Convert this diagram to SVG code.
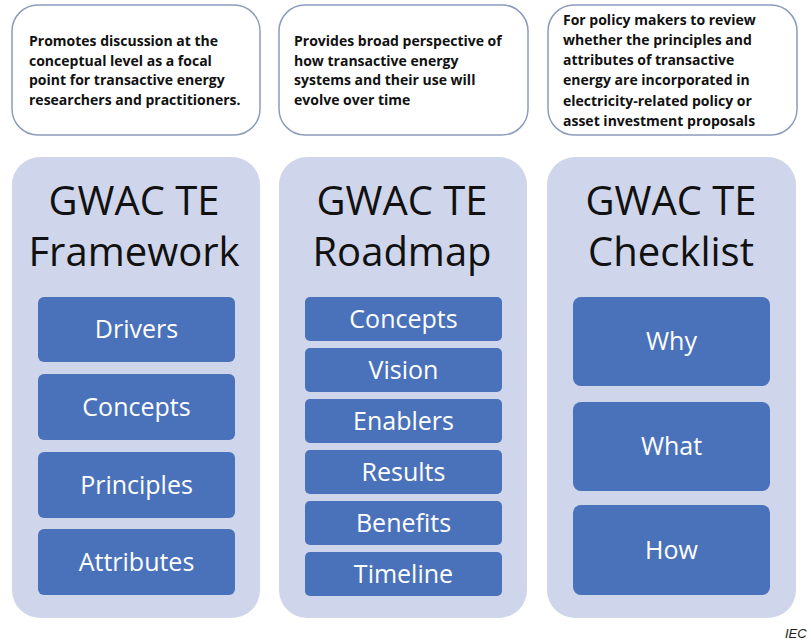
<svg xmlns="http://www.w3.org/2000/svg" width="811" height="641" viewBox="0 0 811 641">
<style>
.note{fill:#ffffff;stroke:#8c9cbb;stroke-width:1.5}
.ntxt{font-family:"Open Sans","Liberation Sans",sans-serif;font-weight:bold;font-size:14px;fill:#111111}
.panel{fill:#cfd5ea}
.title{font-family:"Open Sans","Liberation Sans",sans-serif;font-size:40px;fill:#111111;text-anchor:middle}
.item{fill:#4a72bb}
.itxt{font-family:"Open Sans","Liberation Sans",sans-serif;font-size:25px;fill:#ffffff;text-anchor:middle}
.src{font-family:"Liberation Sans",Arial,sans-serif;font-style:italic;font-size:13px;fill:#222222}
</style>
<rect width="811" height="641" fill="#ffffff"/>
<g id="note-framework">
<rect class="note" x="12" y="5" width="248" height="130" rx="26"/>
<text class="ntxt" x="29" y="46">Promotes discussion at the</text>
<text class="ntxt" x="29" y="65.5">conceptual level as a focal</text>
<text class="ntxt" x="29" y="85">point for transactive energy</text>
<text class="ntxt" x="29" y="104.5">researchers and practitioners.</text>
</g>
<g id="note-roadmap">
<rect class="note" x="279" y="5" width="249" height="130" rx="26"/>
<text class="ntxt" x="294" y="46">Provides broad perspective of</text>
<text class="ntxt" x="294" y="65.5">how transactive energy</text>
<text class="ntxt" x="294" y="85">systems and their use will</text>
<text class="ntxt" x="294" y="104.5">evolve over time</text>
</g>
<g id="note-checklist">
<rect class="note" x="548" y="5" width="249" height="130" rx="26"/>
<text class="ntxt" x="563" y="24.5">For policy makers to review</text>
<text class="ntxt" x="563" y="44.8">whether the principles and</text>
<text class="ntxt" x="563" y="65.1">attributes of transactive</text>
<text class="ntxt" x="563" y="85.4">energy are incorporated in</text>
<text class="ntxt" x="563" y="105.7">electricity-related policy or</text>
<text class="ntxt" x="563" y="126">asset investment proposals</text>
</g>
<g id="framework">
<rect class="panel" x="12" y="157" width="248" height="461" rx="28"/>
<text class="title" x="134" y="215">GWAC TE</text>
<text class="title" x="134" y="266">Framework</text>
<g id="fw-drivers"><rect class="item" x="38" y="297" width="197" height="65" rx="6"/><text class="itxt" x="136.5" y="338">Drivers</text></g>
<g id="fw-concepts"><rect class="item" x="38" y="374" width="197" height="66" rx="6"/><text class="itxt" x="136.5" y="415.5">Concepts</text></g>
<g id="fw-principles"><rect class="item" x="38" y="452" width="197" height="66" rx="6"/><text class="itxt" x="136.5" y="493.5">Principles</text></g>
<g id="fw-attributes"><rect class="item" x="38" y="529" width="197" height="66" rx="6"/><text class="itxt" x="136.5" y="570.5">Attributes</text></g>
</g>
<g id="roadmap">
<rect class="panel" x="279" y="157" width="248" height="461" rx="28"/>
<text class="title" x="402" y="215">GWAC TE</text>
<text class="title" x="402" y="266">Roadmap</text>
<g id="rm-concepts"><rect class="item" x="305" y="297" width="197" height="44" rx="5"/><text class="itxt" x="403.5" y="327.5">Concepts</text></g>
<g id="rm-vision"><rect class="item" x="305" y="348" width="197" height="44" rx="5"/><text class="itxt" x="403.5" y="378.5">Vision</text></g>
<g id="rm-enablers"><rect class="item" x="305" y="399" width="197" height="44" rx="5"/><text class="itxt" x="403.5" y="429.5">Enablers</text></g>
<g id="rm-results"><rect class="item" x="305" y="450" width="197" height="44" rx="5"/><text class="itxt" x="403.5" y="480.5">Results</text></g>
<g id="rm-benefits"><rect class="item" x="305" y="501" width="197" height="44" rx="5"/><text class="itxt" x="403.5" y="531.5">Benefits</text></g>
<g id="rm-timeline"><rect class="item" x="305" y="552" width="197" height="44" rx="5"/><text class="itxt" x="403.5" y="582.5">Timeline</text></g>
</g>
<g id="checklist">
<rect class="panel" x="547" y="157" width="249" height="461" rx="28"/>
<text class="title" x="671" y="215">GWAC TE</text>
<text class="title" x="671" y="266">Checklist</text>
<g id="cl-why"><rect class="item" x="573" y="297" width="197" height="89" rx="8"/><text class="itxt" x="671.5" y="350">Why</text></g>
<g id="cl-what"><rect class="item" x="573" y="402" width="197" height="89" rx="8"/><text class="itxt" x="671.5" y="455">What</text></g>
<g id="cl-how"><rect class="item" x="573" y="505" width="197" height="90" rx="8"/><text class="itxt" x="671.5" y="558.5">How</text></g>
</g>
<g id="connectors"/>
<text class="src" x="785" y="638">IEC</text>
</svg>
